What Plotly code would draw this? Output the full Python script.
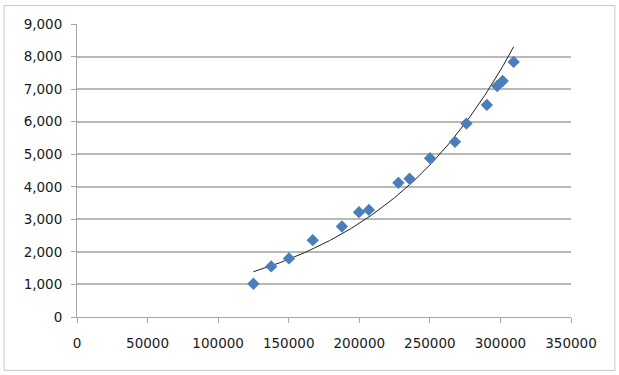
import numpy as np
import plotly.graph_objects as go

x_vals = [125000, 137600, 150200, 167000, 187700, 199800, 206800, 227700, 235600,
          250100, 267800, 275900, 290400, 297700, 301600, 309400]
y_vals = [1020, 1555, 1800, 2360, 2780, 3220, 3290, 4120, 4245,
          4880, 5380, 5940, 6515, 7095, 7250, 7835]

x_ticks = [0, 50000, 100000, 150000, 200000, 250000, 300000, 350000]
y_ticks = [0, 1000, 2000, 3000, 4000, 5000, 6000, 7000, 8000, 9000]

# Exponential trendline (least squares on ln y), like Excel
xa = np.array(x_vals, dtype=float)
ya = np.array(y_vals, dtype=float)
b, ln_a = np.polyfit(xa, np.log(ya), 1)
tx = np.linspace(xa.min(), xa.max(), 200)
ty = np.exp(ln_a) * np.exp(b * tx)

fig = go.Figure()
fig.add_trace(go.Scatter(
    x=tx, y=ty, mode="lines",
    line=dict(color="#202020", width=1),
    hoverinfo="skip", showlegend=False,
))
fig.add_trace(go.Scatter(
    x=x_vals, y=y_vals, mode="markers",
    marker=dict(symbol="diamond", size=9.5, color="#4A7EBB",
                line=dict(width=0)),
    showlegend=False,
))

L, R, T, B = 77.3, 570.7, 24.0, 317.5
W, H = R - L, B - T

def px(xp):
    return (xp - L) / W

def py(yp):
    return (B - yp) / H

fig.add_shape(type="rect", xref="paper", yref="paper",
              x0=px(4.5), x1=px(614.5), y0=py(371), y1=py(5.5),
              line=dict(color="#C8C8C8", width=1), fillcolor="rgba(0,0,0,0)",
              layer="below")

font = dict(family="DejaVu Sans", size=13.5, color="#1a1a1a")

fig.update_layout(
    width=619, height=375,
    margin=dict(l=L, r=619 - R, t=T, b=375 - B, pad=0),
    paper_bgcolor="white", plot_bgcolor="white",
    font=font,
    xaxis=dict(
        range=[0, 350000], tickvals=x_ticks,
        ticktext=[str(v) for v in x_ticks],
        showgrid=False, zeroline=False,
        showline=True, linecolor="#A6A6A6", linewidth=1,
        ticks="outside", ticklen=5, tickcolor="#A6A6A6", tickwidth=1,
        tickfont=font, ticklabelstandoff=9, fixedrange=True,
    ),
    yaxis=dict(
        range=[0, 9000], tickvals=y_ticks,
        ticktext=[f"{v:,}" for v in y_ticks],
        showgrid=True, gridcolor="#B8B8B8", gridwidth=1.5,
        zeroline=False,
        showline=True, linecolor="#A6A6A6", linewidth=1,
        ticks="outside", ticklen=5, tickcolor="#A6A6A6", tickwidth=1,
        tickfont=font, ticklabelstandoff=6, fixedrange=True,
    ),
)

fig.write_html("out.html")
